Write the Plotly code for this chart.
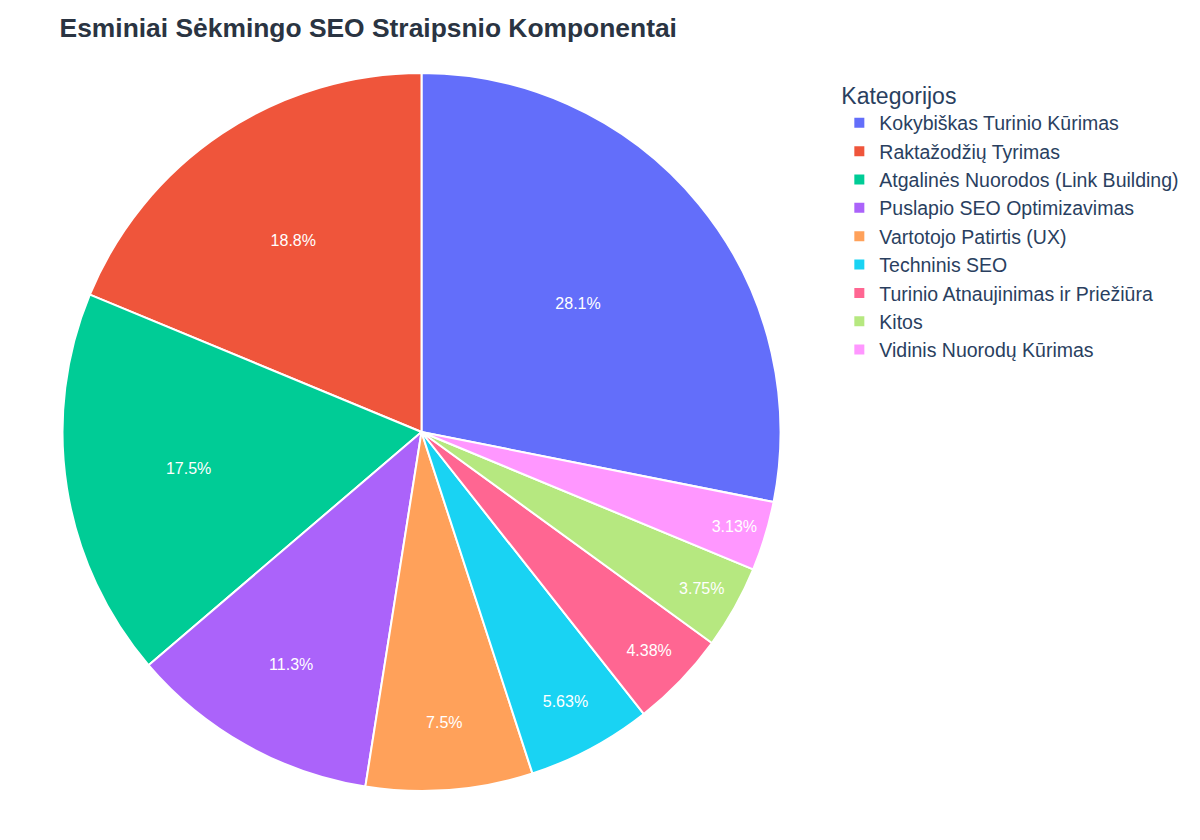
import plotly.graph_objects as go

categories = [
    "Kokybiškas Turinio Kūrimas",
    "Raktažodžių Tyrimas",
    "Atgalinės Nuorodos (Link Building)",
    "Puslapio SEO Optimizavimas",
    "Vartotojo Patirtis (UX)",
    "Techninis SEO",
    "Turinio Atnaujinimas ir Priežiūra",
    "Kitos",
    "Vidinis Nuorodų Kūrimas",
]
values = [45, 30, 28, 18, 12, 9, 7, 6, 5]
colors = ["#636efa", "#EF553B", "#00cc96", "#ab63fa", "#FFA15A",
          "#19d3f3", "#FF6692", "#B6E880", "#FF97FF"]

fig = go.Figure(go.Pie(
    labels=categories,
    values=values,
    textinfo="percent",
    textfont=dict(color="white", size=16),
    marker=dict(colors=colors, line=dict(color="white", width=2)),
    sort=False,
))

fig.update_layout(
    width=1200, height=840,
    font=dict(family="Liberation Sans, Arial, sans-serif", color="#2a3f5f"),
    title=dict(text="<b>Esminiai Sėkmingo SEO Straipsnio Komponentai</b>",
               x=0.043, xref="container", y=0.977, yref="container",
               yanchor="middle", font=dict(size=26.4, color="#2a3442")),
    legend=dict(title=dict(text="Kategorijos", font=dict(size=23)),
                font=dict(size=19.5), x=1.035, y=0.999, yanchor="top"),
    margin=dict(l=23, r=396, t=65, b=57, autoexpand=False),
    paper_bgcolor="white",
)

fig.write_html("out.html")
